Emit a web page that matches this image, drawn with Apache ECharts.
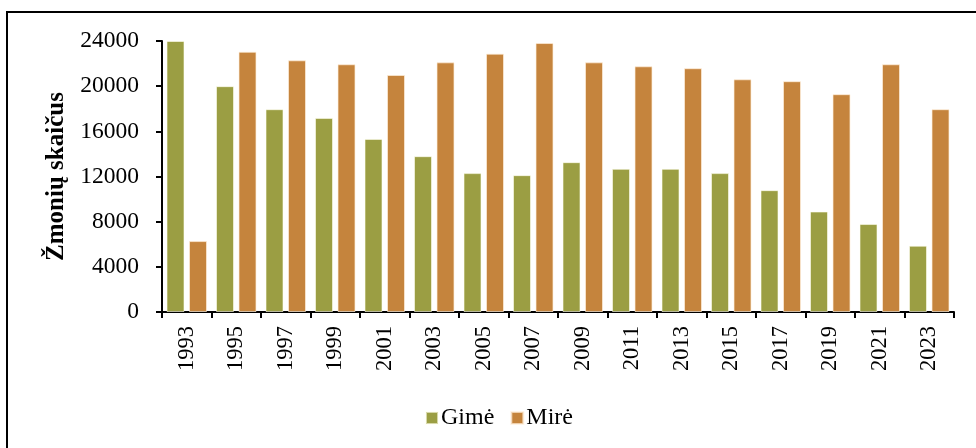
<!DOCTYPE html>
<html lang="lt">
<head>
    <meta charset="UTF-8">
    <title>Gimę ir mirę</title>
    <script src="https://cdn.jsdelivr.net/npm/echarts@6/dist/echarts.min.js"></script>
    <style>
        html, body { margin: 0; padding: 0; background: #fff; }
        #main { width: 976px; height: 448px; }
    </style>
</head>
<body>
    <div id="main"></div>
<script>
// metai
var years = ['1993', '1995', '1997', '1999', '2001', '2003', '2005', '2007',
             '2009', '2011', '2013', '2015', '2017', '2019', '2021', '2023'];
// gimusiųjų skaičius
var gime = [24000, 20000, 17960, 17190, 15330, 13800, 12300, 12120,
            13270, 12680, 12680, 12300, 10790, 8900, 7790, 5870];
// mirusiųjų skaičius
var mire = [6280, 23050, 22290, 21940, 20990, 22110, 22880, 23820,
            22110, 21760, 21590, 20610, 20440, 19290, 21940, 17960];

var font = '"Liberation Serif", "Times New Roman", serif';

var myChart = echarts.init(document.getElementById('main'));

myChart.setOption({
    animation: false,
    textStyle: { fontFamily: font, color: '#000' },
    graphic: [{
        type: 'rect',
        shape: { x: 7, y: 12, width: 1100, height: 600 },
        style: { fill: 'none', stroke: '#000', lineWidth: 2 }
    }],
    grid: { left: 162, right: 22, top: 41, bottom: 136 },
    legend: {
        left: 420,
        top: 401,
        itemWidth: 12,
        itemHeight: 12,
        itemGap: 16,
        icon: 'rect',
        textStyle: { fontFamily: font, fontSize: 24, color: '#000', padding: [0, 0, 0, -2] },
        data: ['Gimė', 'Mirė']
    },
    xAxis: {
        type: 'category',
        data: years,
        axisLine: { lineStyle: { color: '#000', width: 2 } },
        axisTick: { show: true, length: 6, lineStyle: { color: '#000', width: 2 } },
        axisLabel: { rotate: 90, margin: 14, fontSize: 22.5, color: '#000', fontFamily: font }
    },
    yAxis: {
        type: 'value',
        min: 0,
        max: 24000,
        interval: 4000,
        name: 'Žmonių skaičus',
        nameLocation: 'middle',
        nameGap: 93,
        nameTextStyle: { fontSize: 25, fontWeight: 'bold', color: '#000', fontFamily: font },
        axisLine: { show: true, lineStyle: { color: '#000', width: 2 } },
        axisTick: { show: true, length: 6, lineStyle: { color: '#000', width: 2 } },
        axisLabel: {
            margin: 23, fontSize: 23.5, color: '#000', fontFamily: font,
            formatter: function (v) { return String(v); }
        },
        splitLine: { show: false }
    },
    series: [
        {
            name: 'Gimė',
            type: 'bar',
            data: gime,
            barWidth: 18,
            barGap: '25%',
            itemStyle: { color: '#9b9e43', borderColor: 'rgba(255,255,240,0.6)', borderWidth: 1 }
        },
        {
            name: 'Mirė',
            type: 'bar',
            data: mire,
            barWidth: 18,
            itemStyle: { color: '#c5843d', borderColor: 'rgba(255,240,220,0.7)', borderWidth: 1 }
        }
    ]
});
</script>
</body>
</html>
